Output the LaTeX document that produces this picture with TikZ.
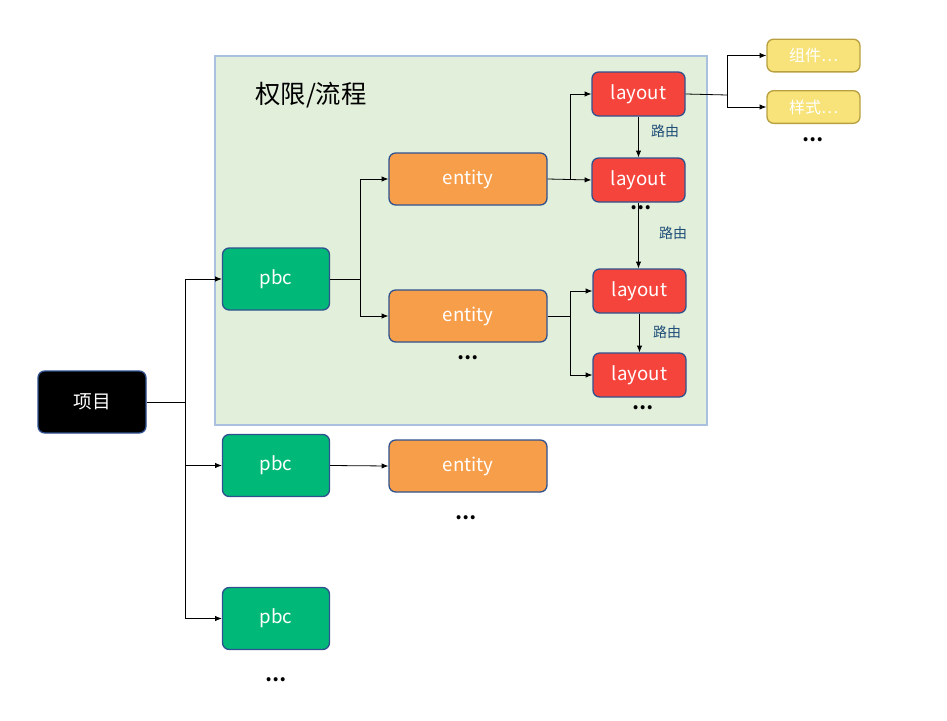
\documentclass[tikz,border=0pt]{standalone}
\usepackage{fontspec}
\setmainfont{Noto Sans CJK SC}
\usetikzlibrary{arrows.meta}
\definecolor{bd}{HTML}{2F528F}
\definecolor{gbox}{HTML}{E2EFDA}
\definecolor{gbd}{HTML}{A9C1DE}
\definecolor{pbcc}{HTML}{00B877}
\definecolor{entc}{HTML}{F79E4A}
\definecolor{layc}{HTML}{F5443C}
\definecolor{yelc}{HTML}{F7E37A}
\definecolor{yelbd}{HTML}{B8A040}
\definecolor{lab}{HTML}{1F4E79}
\begin{document}
\begin{tikzpicture}[x=0.75pt,y=-0.75pt,
 bx/.style={draw=bd,line width=1pt,rounded corners=5pt,text=white,font=\fontsize{14}{16}\selectfont,inner sep=0pt},
 pbc/.style={bx,fill=pbcc,minimum width=80.25pt,minimum height=46.5pt},
 ent/.style={bx,fill=entc,minimum width=118.5pt,minimum height=39pt},
 lay/.style={bx,fill=layc,minimum width=69.75pt,minimum height=33pt},
 yel/.style={bx,fill=yelc,draw=yelbd,text=white,minimum width=69.75pt,minimum height=24.5pt,font=\fontsize{12}{14}\selectfont},
 arr/.style={-{Latex[length=5pt,width=4pt]},line width=0.6pt},
 ln/.style={line width=0.6pt},
 dots/.style={font=\bfseries\fontsize{14}{14}\selectfont},
 rl/.style={text=lab,font=\fontsize{10.5}{12}\selectfont}]
\useasboundingbox (0,0) rectangle (947,721);
\node[draw=gbd,fill=gbox,line width=1pt,minimum width=369pt,minimum height=276.75pt,inner sep=0pt] (grp) at (461,240.5) {};
\node[font=\fontsize{19}{22}\selectfont] (title) at (311,95) {权限/流程};
\node[bx,fill=black,minimum width=81pt,minimum height=46.5pt] (proj) at (92,402) {项目};
\node[pbc] (p1) at (276,279) {pbc};
\node[pbc] (p2) at (276,465.5) {pbc};
\node[pbc] (p3) at (276,618.5) {pbc};
\node[ent] (e1) at (468,179) {entity};
\node[ent] (e2) at (468,316) {entity};
\node[ent] (e3) at (468,466) {entity};
\node[lay] (l1) at (638.5,94) {layout};
\node[lay] (l2) at (638.5,180) {layout};
\node[lay] (l3) at (639.5,291) {layout};
\node[lay] (l4) at (639.5,375) {layout};
\node[yel] (y1) at (813.5,55.5) {组件…};
\node[yel] (y2) at (813.5,107) {样式…};
\node[dots] (d1) at (813,140) {…};
\node[dots] (d2) at (641,208) {…};
\node[dots] (d3) at (468,358) {…};
\node[dots] (d4) at (643,408) {…};
\node[dots] (d5) at (466,518) {…};
\node[dots] (d6) at (276,680) {…};
\node[rl] (r1) at (665,131) {路由};
\node[rl] (r2) at (673,233) {路由};
\node[rl] (r3) at (667,332) {路由};
\coordinate (j0) at (185,402);
\draw[ln] (proj.east) -- (j0);
\draw[arr] (j0) |- (p1.west);
\draw[arr] (j0) |- (p2.west);
\draw[arr] (j0) |- (p3.west);
\coordinate (j1) at (360,279);
\draw[ln] (p1.east) -- (j1);
\draw[arr] (j1) |- (e1.west);
\draw[arr] (j1) |- (e2.west);
\draw[arr] (p2.east) -- (e3.west);
\coordinate (j2) at (570,180);
\draw[arr] (e1.east) -- (l2.west);
\draw[arr] (j2) |- (l1.west);
\coordinate (j3) at (570,316);
\draw[ln] (e2.east) -- (j3);
\draw[arr] (j3) |- (l3.west);
\draw[arr] (j3) |- (l4.west);
\draw[arr] (l1.south) -- (l2.south |- l1.south) -- (l2.north);
\draw[arr] (l2.south) -- (l2.south |- l3.north);
\draw[arr] (l3.south) -- (l4.north);
\coordinate (j4) at (727,95);
\draw[ln] (l1.east) -- (j4);
\draw[arr] (j4) |- (y1.west);
\draw[arr] (j4) |- (y2.west);
\end{tikzpicture}
\end{document}
